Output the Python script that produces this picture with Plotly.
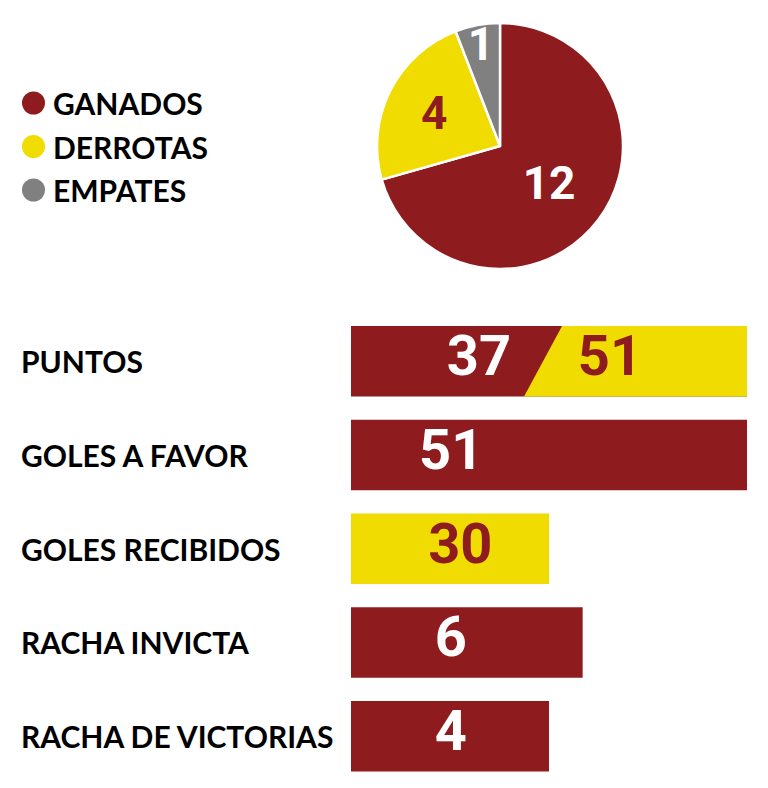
import plotly.graph_objects as go

# ---------------- data ----------------
result_labels = ["GANADOS", "DERROTAS", "EMPATES"]
result_counts = [12, 4, 1]

stat_names = ["PUNTOS", "GOLES A FAVOR", "GOLES RECIBIDOS", "RACHA INVICTA", "RACHA DE VICTORIAS"]
stat_values = ["37", "51", "30", "6", "4"]
puntos_possible = "51"
# displayed bar length (infographic scale, % of full bar)
bar_length = [100, 100, 50, 58.5, 50]

# ---------------- style ----------------
RED = "#8E1B1E"
YELLOW = "#F0DC00"
GRAY = "#808080"
slice_colors = [RED, YELLOW, GRAY]
bar_colors = [RED, RED, YELLOW, RED, RED]
text_colors = ["white", "white", RED, "white", "white"]
label_font = "Lato"
num_font = "Roboto"

W, H = 768, 788
def px_x(p):
    return p / W
def px_y(p):
    return 1 - p / H

fig = go.Figure()

# ---- pie ----
fig.add_trace(go.Pie(
    labels=result_labels, values=result_counts, sort=False, direction="clockwise",
    rotation=0, marker=dict(colors=slice_colors, line=dict(color="white", width=2.5)),
    textinfo="value", textposition="inside", insidetextorientation="horizontal",
    textfont=dict(family=num_font, size=46, color=["white", RED, "white"], weight="bold"),
    domain=dict(x=[px_x(377), px_x(623)], y=[px_y(269), px_y(23)]),
    showlegend=False, hoverinfo="label+value",
))

# ---- legend built as scatter on its own axes ----
leg_rows = list(range(len(result_labels)))
fig.add_trace(go.Scatter(
    x=[33.5] * len(result_labels), y=leg_rows, mode="markers",
    marker=dict(size=23, color=slice_colors), xaxis="x2", yaxis="y2",
    showlegend=False, hoverinfo="skip",
))
for i, lab in enumerate(result_labels):
    fig.add_annotation(x=51, y=i, xref="x2", yref="y2", text=f"<b>{lab}</b>",
                       showarrow=False, xanchor="left", yanchor="middle",
                       font=dict(family=label_font, size=30, color="black"))

# ---- bars ----
rows = list(range(len(stat_names)))
BAR_W = 0.752
fig.add_trace(go.Bar(
    x=bar_length, y=rows, orientation="h", width=BAR_W,
    marker=dict(color=bar_colors, line=dict(width=0)),
    showlegend=False, hovertext=stat_names, hoverinfo="text",
))

# PUNTOS: diagonal split (obtained vs possible)
split_bottom, split_top = 43.7, 53.3
fig.add_trace(go.Scatter(
    x=[split_bottom, split_top, bar_length[0], bar_length[0], split_bottom],
    y=[rows[0] + BAR_W / 2, rows[0] - BAR_W / 2, rows[0] - BAR_W / 2, rows[0] + BAR_W / 2, rows[0] + BAR_W / 2],
    fill="toself", fillcolor=YELLOW, mode="lines", line=dict(width=0, color=YELLOW),
    showlegend=False, hoverinfo="skip",
))

# value texts
text_x = [32.3, 25.3, 27.6, 25.2, 25.2]
fig.add_trace(go.Scatter(
    x=text_x + [65.4], y=rows + [rows[0]], mode="text",
    text=[f"<b>{v}</b>" for v in stat_values] + [f"<b>{puntos_possible}</b>"],
    textposition="middle center",
    textfont=dict(family=num_font, size=56, color=text_colors + [RED]),
    showlegend=False, hoverinfo="skip",
))

# row labels
for i, name in enumerate(stat_names):
    fig.add_annotation(x=px_x(19), y=i, xref="paper", yref="y", text=f"<b>{name}</b>",
                       showarrow=False, xanchor="left", yanchor="middle",
                       font=dict(family=label_font, size=30, color="black"))

fig.update_layout(
    width=W, height=H, margin=dict(l=0, r=0, t=0, b=0),
    paper_bgcolor="white", plot_bgcolor="white",
    xaxis=dict(domain=[px_x(351), px_x(747)], range=[0, 100], visible=False, fixedrange=True),
    yaxis=dict(domain=[px_y(783), px_y(314.5)], range=[4.5, -0.5], visible=False, fixedrange=True),
    xaxis2=dict(domain=[0, px_x(340)], range=[0, 340], visible=False, anchor="y2"),
    yaxis2=dict(domain=[px_y(211.75), px_y(81.25)], range=[2.5, -0.5], visible=False, anchor="x2"),
    uniformtext=dict(minsize=46, mode="show"),
)

fig.write_html("out.html")
